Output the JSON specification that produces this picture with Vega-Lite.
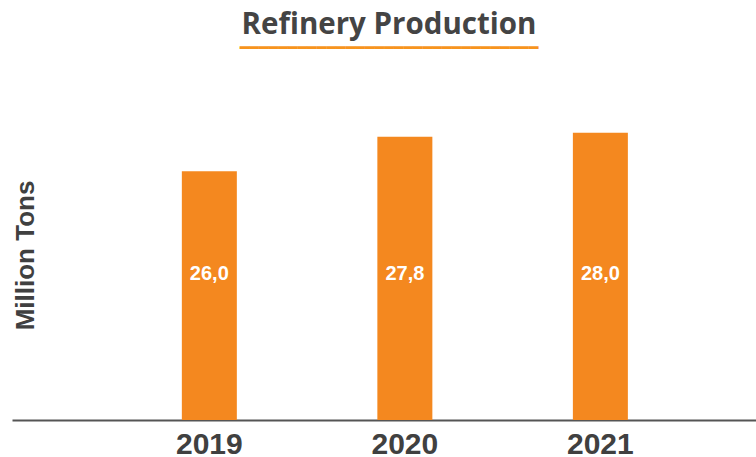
{
  "$schema": "https://vega.github.io/schema/vega-lite/v6.json",
  "width": 744,
  "height": 340,
  "autosize": {"type": "none"},
  "padding": {"left": 12, "top": 80, "right": 0, "bottom": 37},
  "background": "white",
  "title": {
    "text": "Refinery  Production",
    "subtitle": "━━━━━━━━━━━━━━━━━━━━━━━━━━━━━━━",
    "anchor": "middle",
    "dx": 5,
    "font": "Open Sans",
    "fontSize": 29.5,
    "fontWeight": "bold",
    "color": "#444444",
    "subtitleFont": "DejaVu Sans",
    "subtitleFontSize": 16,
    "subtitleColor": "#F7941D",
    "subtitlePadding": 0,
    "offset": 23
  },
  "data": {
    "values": [
      {"year": "2019", "production": 26.0},
      {"year": "2020", "production": 27.8},
      {"year": "2021", "production": 28.0}
    ]
  },
  "encoding": {
    "x": {
      "field": "year",
      "type": "nominal",
      "scale": {"paddingInner": 0.7187, "paddingOuter": 0.762, "align": 0.57},
      "axis": {
        "title": null,
        "labelFont": "Liberation Sans",
        "labelFontSize": 30,
        "labelFontWeight": "bold",
        "labelColor": "#404040",
        "labelAngle": 0,
        "ticks": false,
        "labelPadding": 9,
        "domainColor": "#555555",
        "domainWidth": 2,
        "grid": false
      }
    }
  },
  "layer": [
    {
      "mark": {"type": "bar", "color": "#F4881F"},
      "encoding": {
        "y": {
          "field": "production",
          "type": "quantitative",
          "scale": {"domain": [13.1, 30.74], "zero": false, "nice": false},
          "axis": {
            "title": "Million Tons",
            "titleFont": "Liberation Sans",
            "titleFontSize": 26,
            "titleFontWeight": "bold",
            "titleColor": "#404040",
            "titleX": 21,
            "titleY": 175,
            "titleAngle": 270,
            "titleBaseline": "alphabetic",
            "labels": false,
            "ticks": false,
            "domain": false,
            "grid": false
          }
        },
        "y2": {"datum": 13.1}
      }
    },
    {
      "mark": {"type": "text", "color": "white", "font": "Liberation Sans", "fontWeight": "bold", "fontSize": 20, "baseline": "middle"},
      "encoding": {
        "y": {"datum": 20.67, "type": "quantitative", "axis": {"title": "Million Tons", "titleFont": "Liberation Sans", "titleFontSize": 26, "titleFontWeight": "bold", "titleColor": "#404040", "titleX": 21, "titleY": 175, "titleAngle": 270, "titleBaseline": "alphabetic", "labels": false, "ticks": false, "domain": false, "grid": false}},
        "text": {"field": "production", "type": "quantitative", "format": ".1f"}
      }
    }
  ],
  "config": {
    "view": {"stroke": null},
    "locale": {
      "number": {"decimal": ",", "thousands": ".", "grouping": [3], "currency": ["", " €"]}
    }
  }
}
